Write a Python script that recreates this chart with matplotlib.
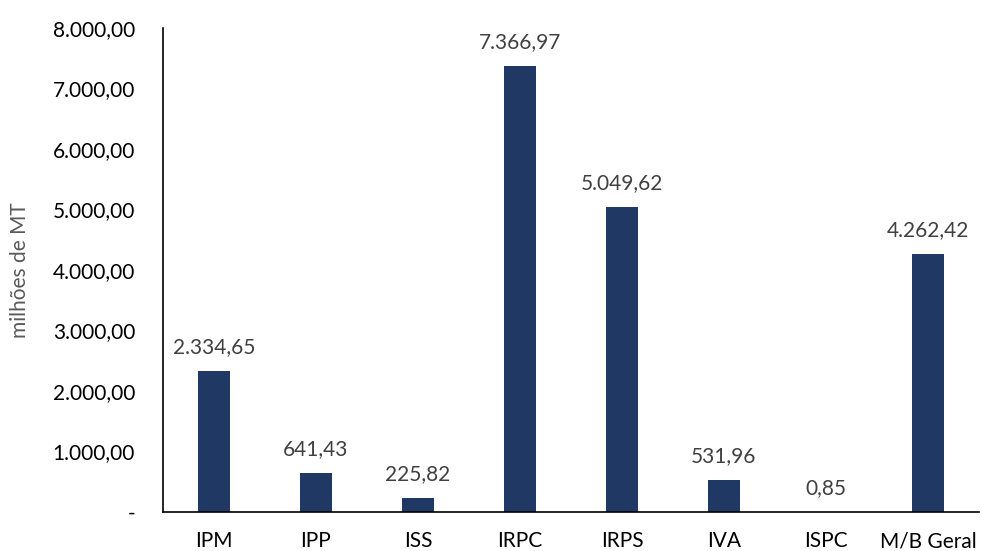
import matplotlib
matplotlib.use("Agg")
import matplotlib.pyplot as plt
from matplotlib.ticker import FuncFormatter

categorias = ["IPM", "IPP", "ISS", "IRPC", "IRPS", "IVA", "ISPC", "M/B Geral"]
valores = [2334.65, 641.43, 225.82, 7366.97, 5049.62, 531.96, 0.85, 4262.42]
yticks = [0, 1000, 2000, 3000, 4000, 5000, 6000, 7000, 8000]


def fmt_pt(v, pos=None):
    # formato português: ponto nos milhares, vírgula nas casas decimais
    if v == 0 and pos is not None:
        return "-"
    s = f"{v:,.2f}"
    return s.replace(",", "X").replace(".", ",").replace("X", ".")


plt.rcParams["font.family"] = ["Lato", "DejaVu Sans"]

fig = plt.figure(figsize=(9.81, 5.51), dpi=100)
ax = fig.add_axes([0.166, 0.071, 0.832, 0.878])

x = range(len(categorias))
barras = ax.bar(x, valores, width=0.31, color="#203864")

for b, v in zip(barras, valores):
    ax.annotate(fmt_pt(v), (b.get_x() + b.get_width() / 2, v),
                xytext=(0, 10), textcoords="offset points",
                ha="center", va="bottom", fontsize=15, color="#404040")

ax.set_xlim(-0.5, len(categorias) - 0.5)
ax.set_ylim(0, 8000)
ax.set_xticks(list(x))
ax.set_xticklabels(categorias, fontsize=15)
ax.set_yticks(yticks)
ax.yaxis.set_major_formatter(FuncFormatter(fmt_pt))
ax.tick_params(axis="y", length=0, labelsize=15, pad=20)
ax.tick_params(axis="x", length=0, pad=14)
for lbl in ax.get_yticklabels():
    lbl.set_horizontalalignment("right")

ax.set_ylabel("milhões de MT", fontsize=15, color="#595959", labelpad=16)

for lado in ["top", "right"]:
    ax.spines[lado].set_visible(False)
ax.spines["left"].set_linewidth(1.2)
ax.spines["bottom"].set_linewidth(1.2)

fig.savefig("out.png", dpi=100)
